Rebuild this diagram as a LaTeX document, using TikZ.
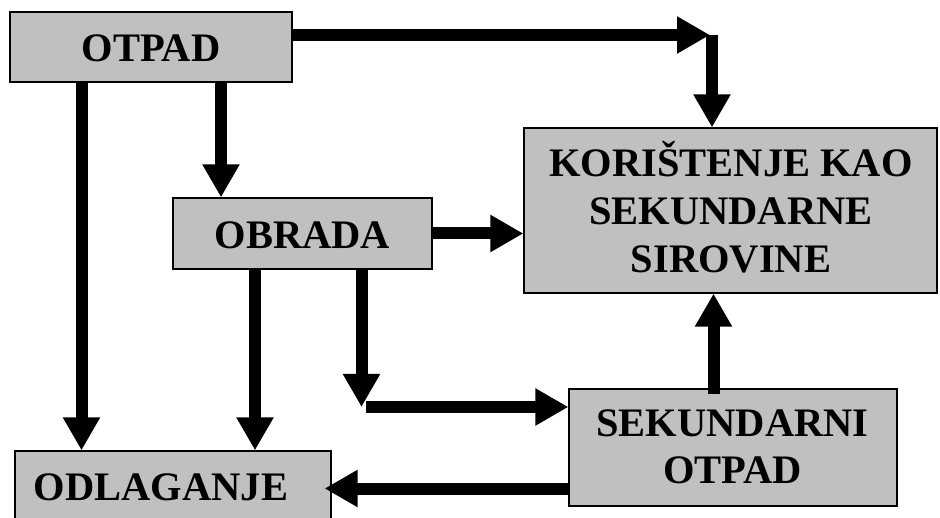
\documentclass[tikz,border=0pt]{standalone}
\usepackage{fontspec}
\setmainfont{Liberation Serif}
\usetikzlibrary{arrows.meta}
\definecolor{boxgray}{HTML}{C0C0C0}
\begin{document}
\begin{tikzpicture}[x=1pt,y=-1pt,
  box/.style={draw=black, line width=1.2pt, fill=boxgray, rectangle, inner sep=0pt},
  lbl/.style={anchor=base, inner sep=0pt, font=\fontsize{40.5pt}{46pt}\selectfont\bfseries},
  flow/.style={line width=12pt, -{Triangle[length=33pt,width=35pt]}},
]
\useasboundingbox (0,0) rectangle (940,518);
\clip (0,0) rectangle (940,518);

% boxes
\node[box, minimum width=282pt, minimum height=70pt]  (otpad) at (151,47) {};
\node[box, minimum width=259pt, minimum height=71pt]  (obr)   at (302.5,233.5) {};
\node[box, minimum width=413pt, minimum height=165pt] (kor)   at (730.5,210.5) {};
\node[box, minimum width=328pt, minimum height=117pt] (sek)   at (733,447.5) {};
\node[box, minimum width=316pt, minimum height=79pt]  (odl)   at (173,490.5) {};

% helper points for the connector routes
\coordinate (turn) at (712,35);
\coordinate (xl) at (81.5,0);
\coordinate (xm) at (221,0);
\coordinate (xo) at (255,0);
\coordinate (bend) at (361.5,407);
\coordinate (xs) at (713.5,0);
\coordinate (yb) at (0,488.5);
\coordinate (sekin) at ([yshift=-6pt]sek.north);
\coordinate (odlin) at ([xshift=-7pt]odl.east);

% connectors
\draw[flow] (otpad.east |- turn) -- ([xshift=-2pt]turn);
\draw[flow] (turn) -- (turn |- kor.north);
\draw[flow] (otpad.south -| xm) -- (obr.north -| xm);
\draw[flow] (otpad.south -| xl) -- (odl.north -| xl);
\draw[flow] (obr.east) -- (obr.east -| kor.west);
\draw[flow] (obr.south -| xo) -- (odl.north -| xo);
\draw[flow] (obr.south -| bend) -- (bend);
\draw[flow] ([xshift=4pt]bend) -- (bend -| sek.west);
\draw[flow] (sekin -| xs) -- (kor.south -| xs);
\draw[flow] (sek.west |- yb) -- (odlin |- yb);

% labels
\node[lbl] (t-otpad) at (151,62) {OTPAD};
\node[lbl] (t-obr) at (302.5,248.5) {OBRADA};
\node[lbl] (t-kor1) at (731,176.5) {KORIŠTENJE KAO};
\node[lbl] (t-kor2) at (731,224.5) {SEKUNDARNE};
\node[lbl] (t-kor3) at (731,272.5) {SIROVINE};
\node[lbl] (t-sek1) at (732.5,436.5) {SEKUNDARNI};
\node[lbl] (t-sek2) at (732.5,483.5) {OTPAD};
\node[lbl] (t-odl) at (161,500) {ODLAGANJE};
\end{tikzpicture}
\end{document}
